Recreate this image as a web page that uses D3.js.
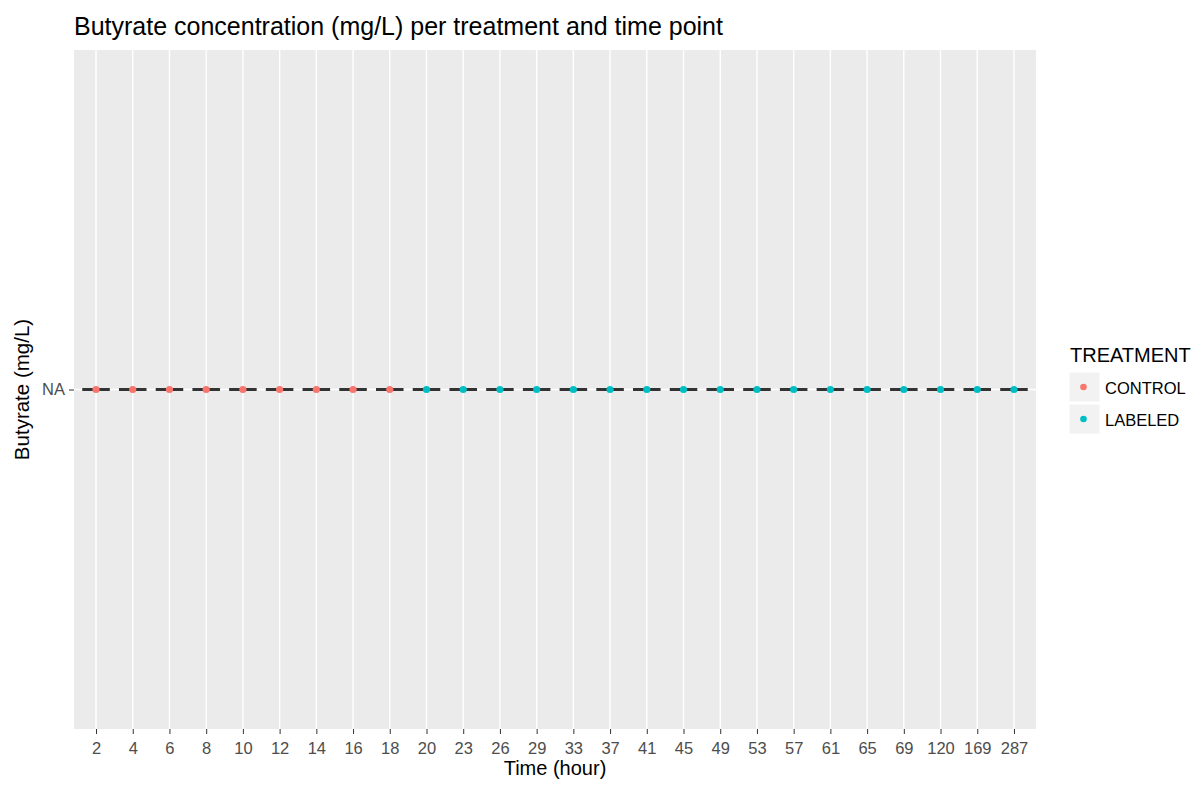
<!DOCTYPE html>
<html>
<head>
<meta charset="utf-8">
<script src="https://cdn.jsdelivr.net/npm/d3@7"></script>
<style>
  body { margin: 0; background: #fff; }
  svg text { font-family: Arial, "Liberation Sans", sans-serif; }
</style>
</head>
<body>
<div id="chart"></div>
<script>
// time points on the x axis (categorical)
const timeLabels = ['2', '4', '6', '8', '10', '12', '14', '16', '18', '20', '23', '26', '29',
  '33', '37', '41', '45', '49', '53', '57', '61', '65', '69', '120', '169', '287'];
// treatment group for each time point
const treatments = ['CONTROL', 'CONTROL', 'CONTROL', 'CONTROL', 'CONTROL', 'CONTROL', 'CONTROL',
  'CONTROL', 'CONTROL', 'LABELED', 'LABELED', 'LABELED', 'LABELED', 'LABELED', 'LABELED',
  'LABELED', 'LABELED', 'LABELED', 'LABELED', 'LABELED', 'LABELED', 'LABELED', 'LABELED',
  'LABELED', 'LABELED', 'LABELED'];
// butyrate values: all missing (NA)
const butyrate = timeLabels.map(() => null);
const yBreaks = ['NA'];
const legendGroups = ['CONTROL', 'LABELED'];
const groupColors = ['#F8766D', '#00BFC4'];

const width = 1201, height = 787;
const panel = { left: 74, right: 1036, top: 50, bottom: 729 };

const svg = d3.select('#chart').append('svg')
  .attr('width', width)
  .attr('height', height);

const x = d3.scalePoint()
  .domain(timeLabels)
  .range([panel.left, panel.right])
  .padding(0.6);

const y = d3.scalePoint()
  .domain(yBreaks)
  .range([panel.bottom, panel.top])
  .padding(0.5);

const color = d3.scaleOrdinal().domain(legendGroups).range(groupColors);

const data = timeLabels.map((t, i) => ({ time: t, group: treatments[i], value: butyrate[i] }));
const yOf = d => (d.value == null ? y('NA') : y(d.value));

// panel background
svg.append('rect')
  .attr('x', panel.left).attr('y', panel.top)
  .attr('width', panel.right - panel.left)
  .attr('height', panel.bottom - panel.top)
  .attr('fill', '#EBEBEB');

// grid lines
svg.append('g').selectAll('line')
  .data(timeLabels)
  .join('line')
  .attr('x1', d => x(d)).attr('x2', d => x(d))
  .attr('y1', panel.top).attr('y2', panel.bottom)
  .attr('stroke', '#fff').attr('stroke-width', 1.4);

svg.append('g').selectAll('line')
  .data(yBreaks)
  .join('line')
  .attr('x1', panel.left).attr('x2', panel.right)
  .attr('y1', d => y(d)).attr('y2', d => y(d))
  .attr('stroke', '#fff').attr('stroke-width', 1.4);

// dashed segments (one per time point)
const half = x.step() * 0.375;
svg.append('g').selectAll('line')
  .data(data)
  .join('line')
  .attr('x1', d => x(d.time) - half)
  .attr('x2', d => x(d.time) + half)
  .attr('y1', yOf).attr('y2', yOf)
  .attr('stroke', '#333333').attr('stroke-width', 3);

// points
svg.append('g').selectAll('circle')
  .data(data)
  .join('circle')
  .attr('cx', d => x(d.time))
  .attr('cy', yOf)
  .attr('r', 3.6)
  .attr('fill', d => color(d.group));

// x axis
const xAxis = svg.append('g')
  .attr('transform', `translate(0,${panel.bottom})`)
  .call(d3.axisBottom(x).tickSize(5).tickPadding(8));
xAxis.select('.domain').remove();
xAxis.selectAll('line').attr('stroke', '#333333').attr('stroke-width', 1);
xAxis.selectAll('text').attr('fill', '#4D4D4D').style('font-size', '16.5px');

// y axis
const yAxis = svg.append('g')
  .attr('transform', `translate(${panel.left},0)`)
  .call(d3.axisLeft(y).tickSize(5).tickPadding(4));
yAxis.select('.domain').remove();
yAxis.selectAll('line').attr('stroke', '#333333').attr('stroke-width', 1);
yAxis.selectAll('text').attr('fill', '#4D4D4D').style('font-size', '16.5px');

// titles
svg.append('text')
  .attr('x', panel.left).attr('y', 35)
  .style('font-size', '25px')
  .attr('fill', '#000')
  .text('Butyrate concentration (mg/L) per treatment and time point');

svg.append('text')
  .attr('x', (panel.left + panel.right) / 2).attr('y', 775)
  .attr('text-anchor', 'middle')
  .style('font-size', '20px')
  .attr('fill', '#000')
  .text('Time (hour)');

svg.append('text')
  .attr('transform', `translate(29,${(panel.top + panel.bottom) / 2}) rotate(-90)`)
  .attr('text-anchor', 'middle')
  .style('font-size', '20.5px')
  .attr('fill', '#000')
  .text('Butyrate (mg/L)');

// legend
const legend = svg.append('g').attr('transform', 'translate(1069,362)');
legend.append('text')
  .attr('x', 1).attr('y', 0)
  .style('font-size', '20px')
  .attr('fill', '#000')
  .text('TREATMENT');

const keys = legend.selectAll('g.key')
  .data(legendGroups)
  .join('g')
  .attr('class', 'key')
  .attr('transform', (d, i) => `translate(0,${10 + i * 32})`);

keys.append('rect')
  .attr('width', 31).attr('height', 30)
  .attr('fill', '#F2F2F2')
  .attr('stroke', '#fff').attr('stroke-width', 1);

keys.append('circle')
  .attr('cx', 14.5).attr('cy', 15).attr('r', 3.3)
  .attr('fill', d => color(d));

keys.append('text')
  .attr('x', 36).attr('y', 22)
  .style('font-size', '16.5px')
  .attr('fill', '#000')
  .text(d => d);
</script>
</body>
</html>
